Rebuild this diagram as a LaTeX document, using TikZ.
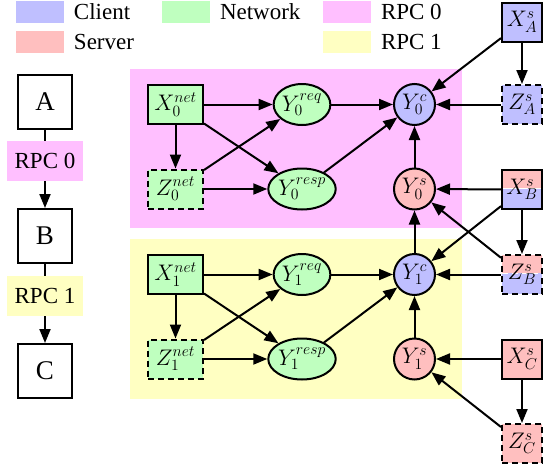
\RequirePackage{fix-cm}
\documentclass[tikz,border=0pt]{standalone}
\usepackage[no-math]{fontspec}
\setmainfont{Liberation Serif}
\usetikzlibrary{arrows.meta,positioning,shapes.geometric}

\definecolor{client}{RGB}{191,191,255}
\definecolor{server}{RGB}{255,191,191}
\definecolor{network}{RGB}{191,255,191}
\definecolor{rpczero}{RGB}{255,191,255}
\definecolor{rpcone}{RGB}{255,255,194}

\tikzset{
  var/.style={draw, inner sep=0pt, font=\fontsize{22.5}{26}\selectfont},
  box/.style={var, rectangle, minimum width=55pt, minimum height=39pt},
  sbox/.style={var, rectangle, minimum width=40pt, minimum height=39pt},
  rv/.style={var, circle, minimum size=41pt},
  msg/.style={var, ellipse, minimum height=41pt},
  latent/.style={dash pattern=on 6pt off 4pt},
  split/.style={path picture={
    \fill[client] (path picture bounding box.south west) rectangle ([yshift=1.5pt]path picture bounding box.east);
    \fill[server] ([yshift=1.5pt]path picture bounding box.west) rectangle (path picture bounding box.north east);
    \draw[white, line width=1pt] ([yshift=1.5pt]path picture bounding box.west) -- ([yshift=1.5pt]path picture bounding box.east);
  }},
  proc/.style={draw, minimum size=54pt, inner sep=0pt, font=\fontsize{27}{30}\selectfont},
  rpclabel/.style={inner sep=0pt, minimum width=76pt, minimum height=40pt, font=\fontsize{23}{27}\selectfont},
  swatch/.style={minimum width=48pt, minimum height=22pt, inner sep=0pt},
  legtext/.style={inner sep=0pt, font=\fontsize{23}{27}\selectfont},
}

\begin{document}
\begin{tikzpicture}[x=1pt, y=-1pt, line width=2pt, >={Triangle[length=14pt,width=11pt]}]
  \useasboundingbox (0,0) rectangle (550,469);

  % legend
  \node[swatch, fill=client] (lclient) at (40,12) {};
  \node[legtext, right=8pt of lclient] {Client};
  \node[swatch, fill=server] (lserver) at (40,42) {};
  \node[legtext, right=8pt of lserver] {Server};
  \node[swatch, fill=network] (lnetwork) at (186,12) {};
  \node[legtext, right=8pt of lnetwork] {Network};
  \node[swatch, fill=rpczero] (lrpczero) at (347,12) {};
  \node[legtext, right=8pt of lrpczero] {RPC 0};
  \node[swatch, fill=rpcone] (lrpcone) at (347,42) {};
  \node[legtext, right=8pt of lrpcone] {RPC 1};

  % call chain
  \node[proc] (A) at (45,102) {A};
  \node[proc] (B) at (45,236) {B};
  \node[proc] (C) at (45,371) {C};
  \draw[->] (A) -- node[rpclabel, fill=rpczero, pos=.4] {RPC 0} (B);
  \draw[->] (B) -- node[rpclabel, fill=rpcone, pos=.4] {RPC 1} (C);

  % one block per rpc
  \fill[rpczero] (130,69) rectangle (462,228);
  \fill[rpcone] (130,239) rectangle (462,399);
  \foreach \i [evaluate=\i as \ya using 104.5+170*\i,
               evaluate=\i as \yb using 189+170*\i] in {0,1} {
    \node[box, fill=network] (xnet\i) at (175.5,\ya) {$X_{\i}^{net}$};
    \node[box, latent, fill=network] (znet\i) at (175.5,\yb) {$Z_{\i}^{net}$};
    \node[msg, fill=network, minimum width=54pt] (yreq\i) at (302,\ya) {$Y_{\i}^{req}$};
    \node[msg, fill=network, minimum width=66pt] (yresp\i) at (302,\yb) {$Y_{\i}^{resp}$};
    \node[rv, fill=client] (yc\i) at (414.5,\ya) {$Y_{\i}^{c}$};
    \node[rv, fill=server] (ys\i) at (414.5,\yb) {$Y_{\i}^{s}$};
    \draw[->] (xnet\i) -- (yreq\i);
    \draw[->] (xnet\i) -- (yresp\i);
    \draw[->] (xnet\i) -- (znet\i);
    \draw[->] (znet\i) -- (yreq\i);
    \draw[->] (znet\i) -- (yresp\i);
    \draw[->] (yreq\i) -- (yc\i);
    \draw[->] (yresp\i) -- (yc\i);
    \draw[->] (ys\i) -- (yc\i);
  }
  \draw[->] (yc1) -- (ys0);

  % server side inputs
  \node[sbox, fill=client] (xa) at (522,22) {$X_A^s$};
  \node[sbox, latent, fill=client] (za) at (522,104.5) {$Z_A^s$};
  \node[sbox, split] (xb) at (522,189.5) {$X_B^s$};
  \node[sbox, latent, split] (zb) at (522,274.5) {$Z_B^s$};
  \node[sbox, fill=server] (xc) at (522,359) {$X_C^s$};
  \node[sbox, latent, fill=server] (zc) at (522,443.5) {$Z_C^s$};
  \draw[->] (xa) -- (za);
  \draw[->] (xa) -- (yc0);
  \draw[->] (za) -- (yc0);
  \draw[->] (xb) -- (zb);
  \draw[->] (xb) -- (ys0);
  \draw[->] (xb) -- (yc1);
  \draw[->] (zb) -- (ys0);
  \draw[->] (zb) -- (yc1);
  \draw[->] (xc) -- (zc);
  \draw[->] (xc) -- (ys1);
  \draw[->] (zc) -- (ys1);
\end{tikzpicture}
\end{document}
